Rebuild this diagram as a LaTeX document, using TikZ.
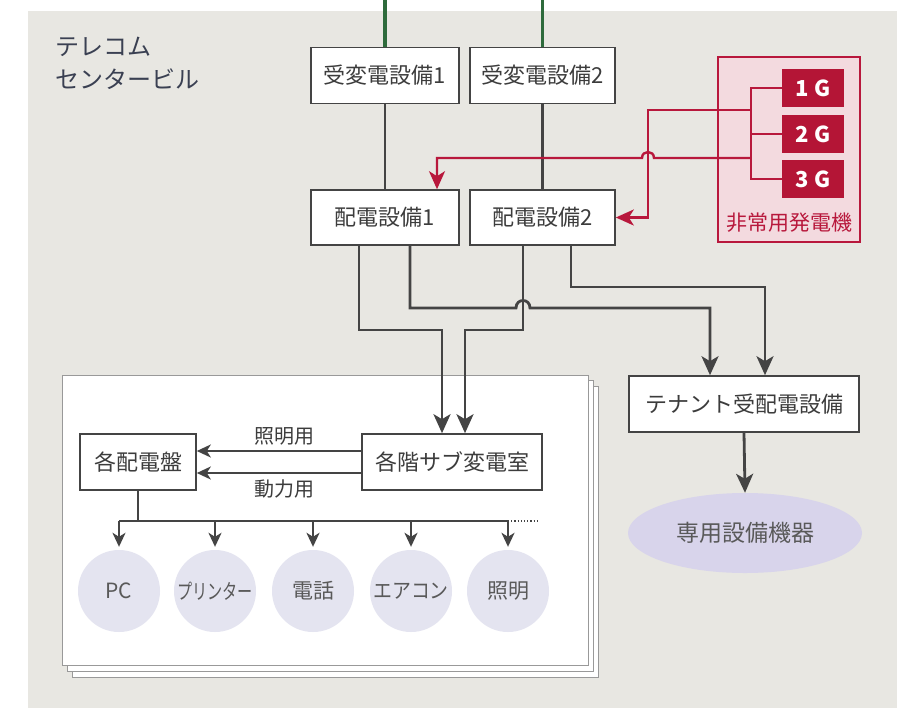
\documentclass[tikz,border=0pt]{standalone}
\usepackage{fontspec}
\usepackage{graphicx}
\setmainfont{Noto Sans CJK JP}
\usetikzlibrary{arrows.meta,shapes.geometric}
\definecolor{bgc}{HTML}{E8E7E2}
\definecolor{boxl}{HTML}{444444}
\definecolor{txt}{HTML}{3C3C3C}
\definecolor{grn}{HTML}{2E6B3C}
\definecolor{redl}{HTML}{B8183C}
\definecolor{redfill}{HTML}{F3DADF}
\definecolor{genfill}{HTML}{B41536}
\definecolor{circf}{HTML}{E4E4F0}
\definecolor{ellf}{HTML}{D8D4EB}
\definecolor{sheetl}{HTML}{999999}
\definecolor{titlec}{HTML}{3A4052}
\tikzset{
  box/.style={draw=boxl, line width=1.6pt, fill=white, text=txt, minimum height=56pt, inner sep=0pt, font=\fontsize{22}{26}\selectfont},
  sheet/.style={draw=sheetl, line width=0.8pt, fill=white},
  conn/.style={draw=boxl, line width=2.2pt},
  bigarrow/.style={draw=boxl, line width=2.8pt, -{Stealth[length=19pt,width=17pt,inset=5pt]}},
  smallarrow/.style={draw=boxl, line width=2.2pt, -{Stealth[length=14pt,width=13pt,inset=4pt]}},
  redline/.style={draw=redl, line width=2.4pt},
  redarrow/.style={draw=redl, line width=2.4pt, -{Stealth[length=18pt,width=16pt,inset=5pt]}},
  genbox/.style={fill=genfill, text=white, minimum width=62pt, minimum height=38pt, inner sep=0pt, font=\fontsize{22}{24}\selectfont\bfseries},
  dev/.style={circle, fill=circf, minimum size=82pt, inner sep=0pt, text=txt!85, font=\fontsize{21}{24}\selectfont},
  lbl/.style={text=txt, font=\fontsize{20}{24}\selectfont, inner sep=0pt}
}
\begin{document}
\begin{tikzpicture}[x=1pt,y=-1pt]
\useasboundingbox (0,0) rectangle (901,712);
\fill[bgc] (28,11) rectangle (897,708);

% title
\node[anchor=west, align=left, text=titlec, font=\fontsize{24}{33}\selectfont, inner sep=0pt] (title) at (55,63) {テレコム\\センタービル};

% receiving and distribution
\node[box, minimum width=148pt] (r1) at (385,75.5) {受変電設備1};
\node[box, minimum width=145pt] (r2) at (542.5,75.5) {受変電設備2};
\node[box, minimum width=148pt, minimum height=55pt] (d1) at (385,217.5) {配電設備1};
\node[box, minimum width=145pt, minimum height=55pt] (d2) at (542.5,217.5) {配電設備2};

\coordinate (g1top) at (385,0);
\coordinate (g2top) at (542.5,0);
\draw[grn, line width=3.2pt] (g1top) -- (r1.north);
\draw[grn, line width=3.2pt] (g2top) -- (r2.north);
\draw[conn] (r1.south) -- (d1.north);
\draw[conn] (r2.south) -- (d2.north);

% emergency generators
\node[draw=redl, line width=1.6pt, fill=redfill, minimum width=142pt, minimum height=185pt, inner sep=0pt] (genframe) at (789,149.5) {};
\node[genbox] (G1) at (813,88) {1\hspace{6pt}G};
\node[genbox] (G2) at (813,134) {2\hspace{6pt}G};
\node[genbox] (G3) at (813,179) {3\hspace{6pt}G};
\node[text=redl, font=\fontsize{21}{24}\selectfont, inner sep=0pt] (genlbl) at (789,223) {非常用発電機};

\coordinate (bus1) at (751,88);
\coordinate (bus3) at (751,179);
\coordinate (busA) at (751,110);
\coordinate (busB) at (751,158);
\draw[redline] (G1.west) -- (bus1) -- (bus3) -- (G3.west);
\draw[redline] (G2.west) -- (751,134);
\draw[redarrow] (busA) -- (648,110) |- (d2.east);
\draw[redarrow] (busB) -- (654,158) .. controls (654,150) and (642,150) .. (642,158) -- (437,158) -- ([xshift=52pt]d1.north);

% sheets
\draw[sheet] (72,386) rectangle (598,677);
\draw[sheet] (67,380) rectangle (593,671);
\draw[sheet] (62,375) rectangle (588,665);

% floor substation
\node[box, minimum width=180pt] (sub) at (452,462) {各階サブ変電室};
\node[box, minimum width=116pt] (pan) at (138,462) {各配電盤};
\draw[smallarrow] ([yshift=11pt]sub.west) -- ([yshift=11pt]pan.east);
\draw[smallarrow] ([yshift=-11pt]sub.west) -- ([yshift=-11pt]pan.east);
\node[lbl] (l1) at (284,436) {照明用};
\node[lbl] (l2) at (284,489) {動力用};

% tenant
\node[box, minimum width=230pt] (ten) at (744,404) {テナント受配電設備};
\node[ellipse, fill=ellf, minimum width=234pt, minimum height=80pt, inner sep=0pt, text=txt!85, font=\fontsize{23}{27}\selectfont] (ell) at (745,533) {専用設備機器};
\draw[bigarrow] (ten.south) -- (ell.north);

% thick distribution lines
\draw[bigarrow] ([xshift=-26pt]d1.south) -- (359,330) -- (442,330) -- ([xshift=-10pt]sub.north);
\draw[bigarrow] ([xshift=-19.5pt]d2.south) -- (523,330) -- (465,330) -- ([xshift=13pt]sub.north);
\draw[bigarrow] ([xshift=25pt]d1.south) -- (410,308) -- (516,308) .. controls (516,298) and (530,298) .. (530,308) -- (710,308) -- ([xshift=-34pt]ten.north);
\draw[bigarrow] ([xshift=28.5pt]d2.south) -- (571,287) -- (765,287) -- ([xshift=21pt]ten.north);

% devices
\node[dev] (c1) at (119,591) {PC};
\node[dev] (c2) at (215,591) {\scalebox{0.72}[1]{プリンター}};
\node[dev] (c3) at (313,591) {電話};
\node[dev] (c4) at (411,591) {\scalebox{0.9}[1]{エアコン}};
\node[dev] (c5) at (508,591) {照明};

\coordinate (busL) at (119,521);
\coordinate (busR) at (508,521);
\coordinate (busD) at (537,521);
\draw[conn] (pan.south) -- (pan.south |- busL);
\draw[conn] (busL) -- (busR);
\draw[boxl, line width=1.2pt, dotted] (busR) -- (busD);
\foreach \c in {c1,c2,c3,c4,c5}
  \draw[smallarrow, shorten >=3pt] (\c.north |- busL) -- (\c.north);
\end{tikzpicture}
\end{document}
